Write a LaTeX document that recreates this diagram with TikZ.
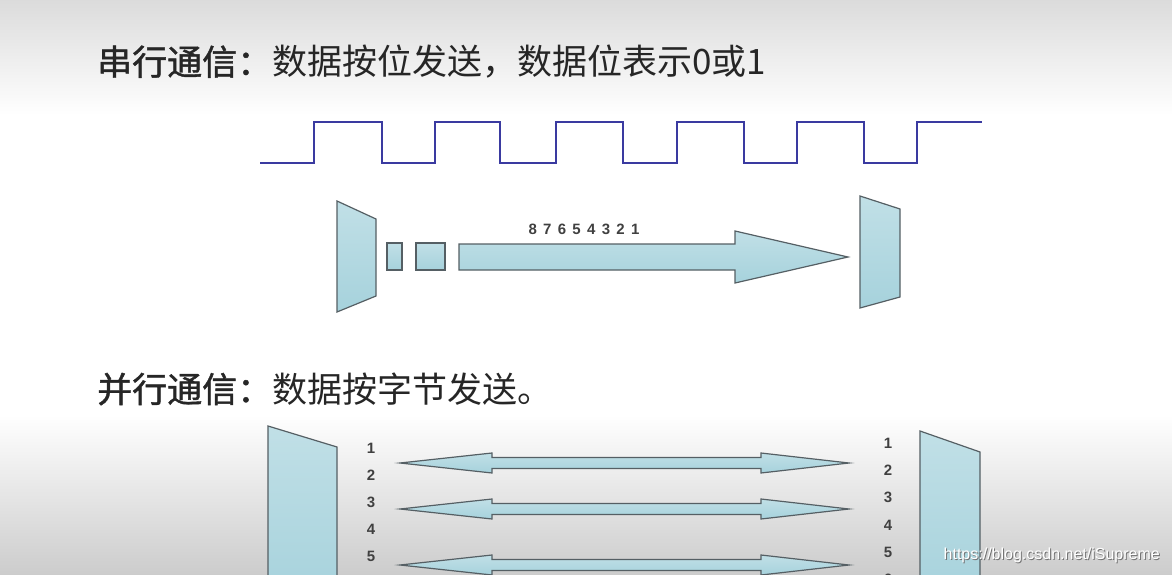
\documentclass[tikz,border=0pt]{standalone}
\usepackage{fontspec}
\setmainfont{Liberation Sans}
\newfontfamily\cjk{Noto Sans CJK SC}
\newfontfamily\cjkb[FakeBold=1.2]{Noto Sans CJK SC}
\newfontfamily\digitsp[LetterSpace=42]{Liberation Sans}
\usetikzlibrary{positioning}
\definecolor{wave}{RGB}{58,58,160}
\definecolor{cyanfill}{RGB}{166,210,220}
\definecolor{cyanedge}{RGB}{85,95,100}

\begin{document}
\begin{tikzpicture}[x=1pt, y=-1pt,
  blk/.style={draw=cyanedge, line width=1.2pt, top color=cyanfill!70!white, bottom color=cyanfill},
  ttl/.style={anchor=west, inner sep=0pt, font=\fontsize{35}{40}\selectfont, text=black!85},
  num/.style={inner sep=0pt, font=\fontsize{15}{16}\selectfont\bfseries, text=black!75},
  sig/.style={draw=wave, line width=1.6pt},
  node distance=4pt]
\useasboundingbox (0,0) rectangle (1172,575);
\clip (0,0) rectangle (1172,575);
% background
\shade[top color=black!14, bottom color=white] (0,0) rectangle (1172,115);
\shade[top color=white, bottom color=black!20] (0,415) rectangle (1172,575);

% serial
\node[ttl] (serial) at (97,62) {{\cjkb 串行通信：}\cjk 数据按位发送，数据位表示0或1};
\draw[sig] (260,163) -- (314,163) |- (382,122) |- (435,163) |- (500,122) |- (556,163)
  |- (623,122) |- (677,163) |- (744,122) |- (797,163) |- (864,122) |- (917,163) |- (982,122);
\draw[blk] (337,201) -- (376,219) -- (376,296) -- (337,312) -- cycle;
\draw[blk] (860,196) -- (900,209) -- (900,297) -- (860,308) -- cycle;
\draw[blk] (387,243) rectangle (402,270);
\draw[blk] (416,243) rectangle (445,270);
\draw[blk] (459,244) -- (735,244) -- (735,231) -- (848,257) -- (735,283) -- (735,270) -- (459,270) -- cycle;
\node[inner sep=0pt, font=\fontsize{15}{16}\selectfont\digitsp\bfseries, text=black!75] (bits) at (584,229) {87654321};

% parallel
\node[ttl] (parallel) at (97,389) {{\cjkb 并行通信：}\cjk 数据按字节发送。};
\draw[blk] (268,426) -- (337,447) -- (337,600) -- (268,600) -- cycle;
\draw[blk] (920,431) -- (980,452) -- (980,600) -- (920,600) -- cycle;
\foreach \y in {463,509,565}
  \draw[blk] (400,\y) -- (492,\y-10) -- (492,\y-5.5) -- (761,\y-5.5) -- (761,\y-10) -- (849,\y)
    -- (761,\y+10) -- (761,\y+5.5) -- (492,\y+5.5) -- (492,\y+10) -- cycle;
\foreach \n in {1,...,5}
  \node[num] (l\n) at (371,{448+27*(\n-1)}) {\n};
\foreach \n in {1,...,6}
  \node[num] (r\n) at (888,{443+27.3*(\n-1)}) {\n};

% watermark
\node[anchor=east, inner sep=0pt, font=\fontsize{16}{16}\selectfont, text=black!55] (wmshadow) at (1161,556) {https://blog.csdn.net/iSupreme};
\node[anchor=east, inner sep=0pt, font=\fontsize{16}{16}\selectfont, text=white] (wm) at (1160,555) {https://blog.csdn.net/iSupreme};
\end{tikzpicture}
\end{document}
